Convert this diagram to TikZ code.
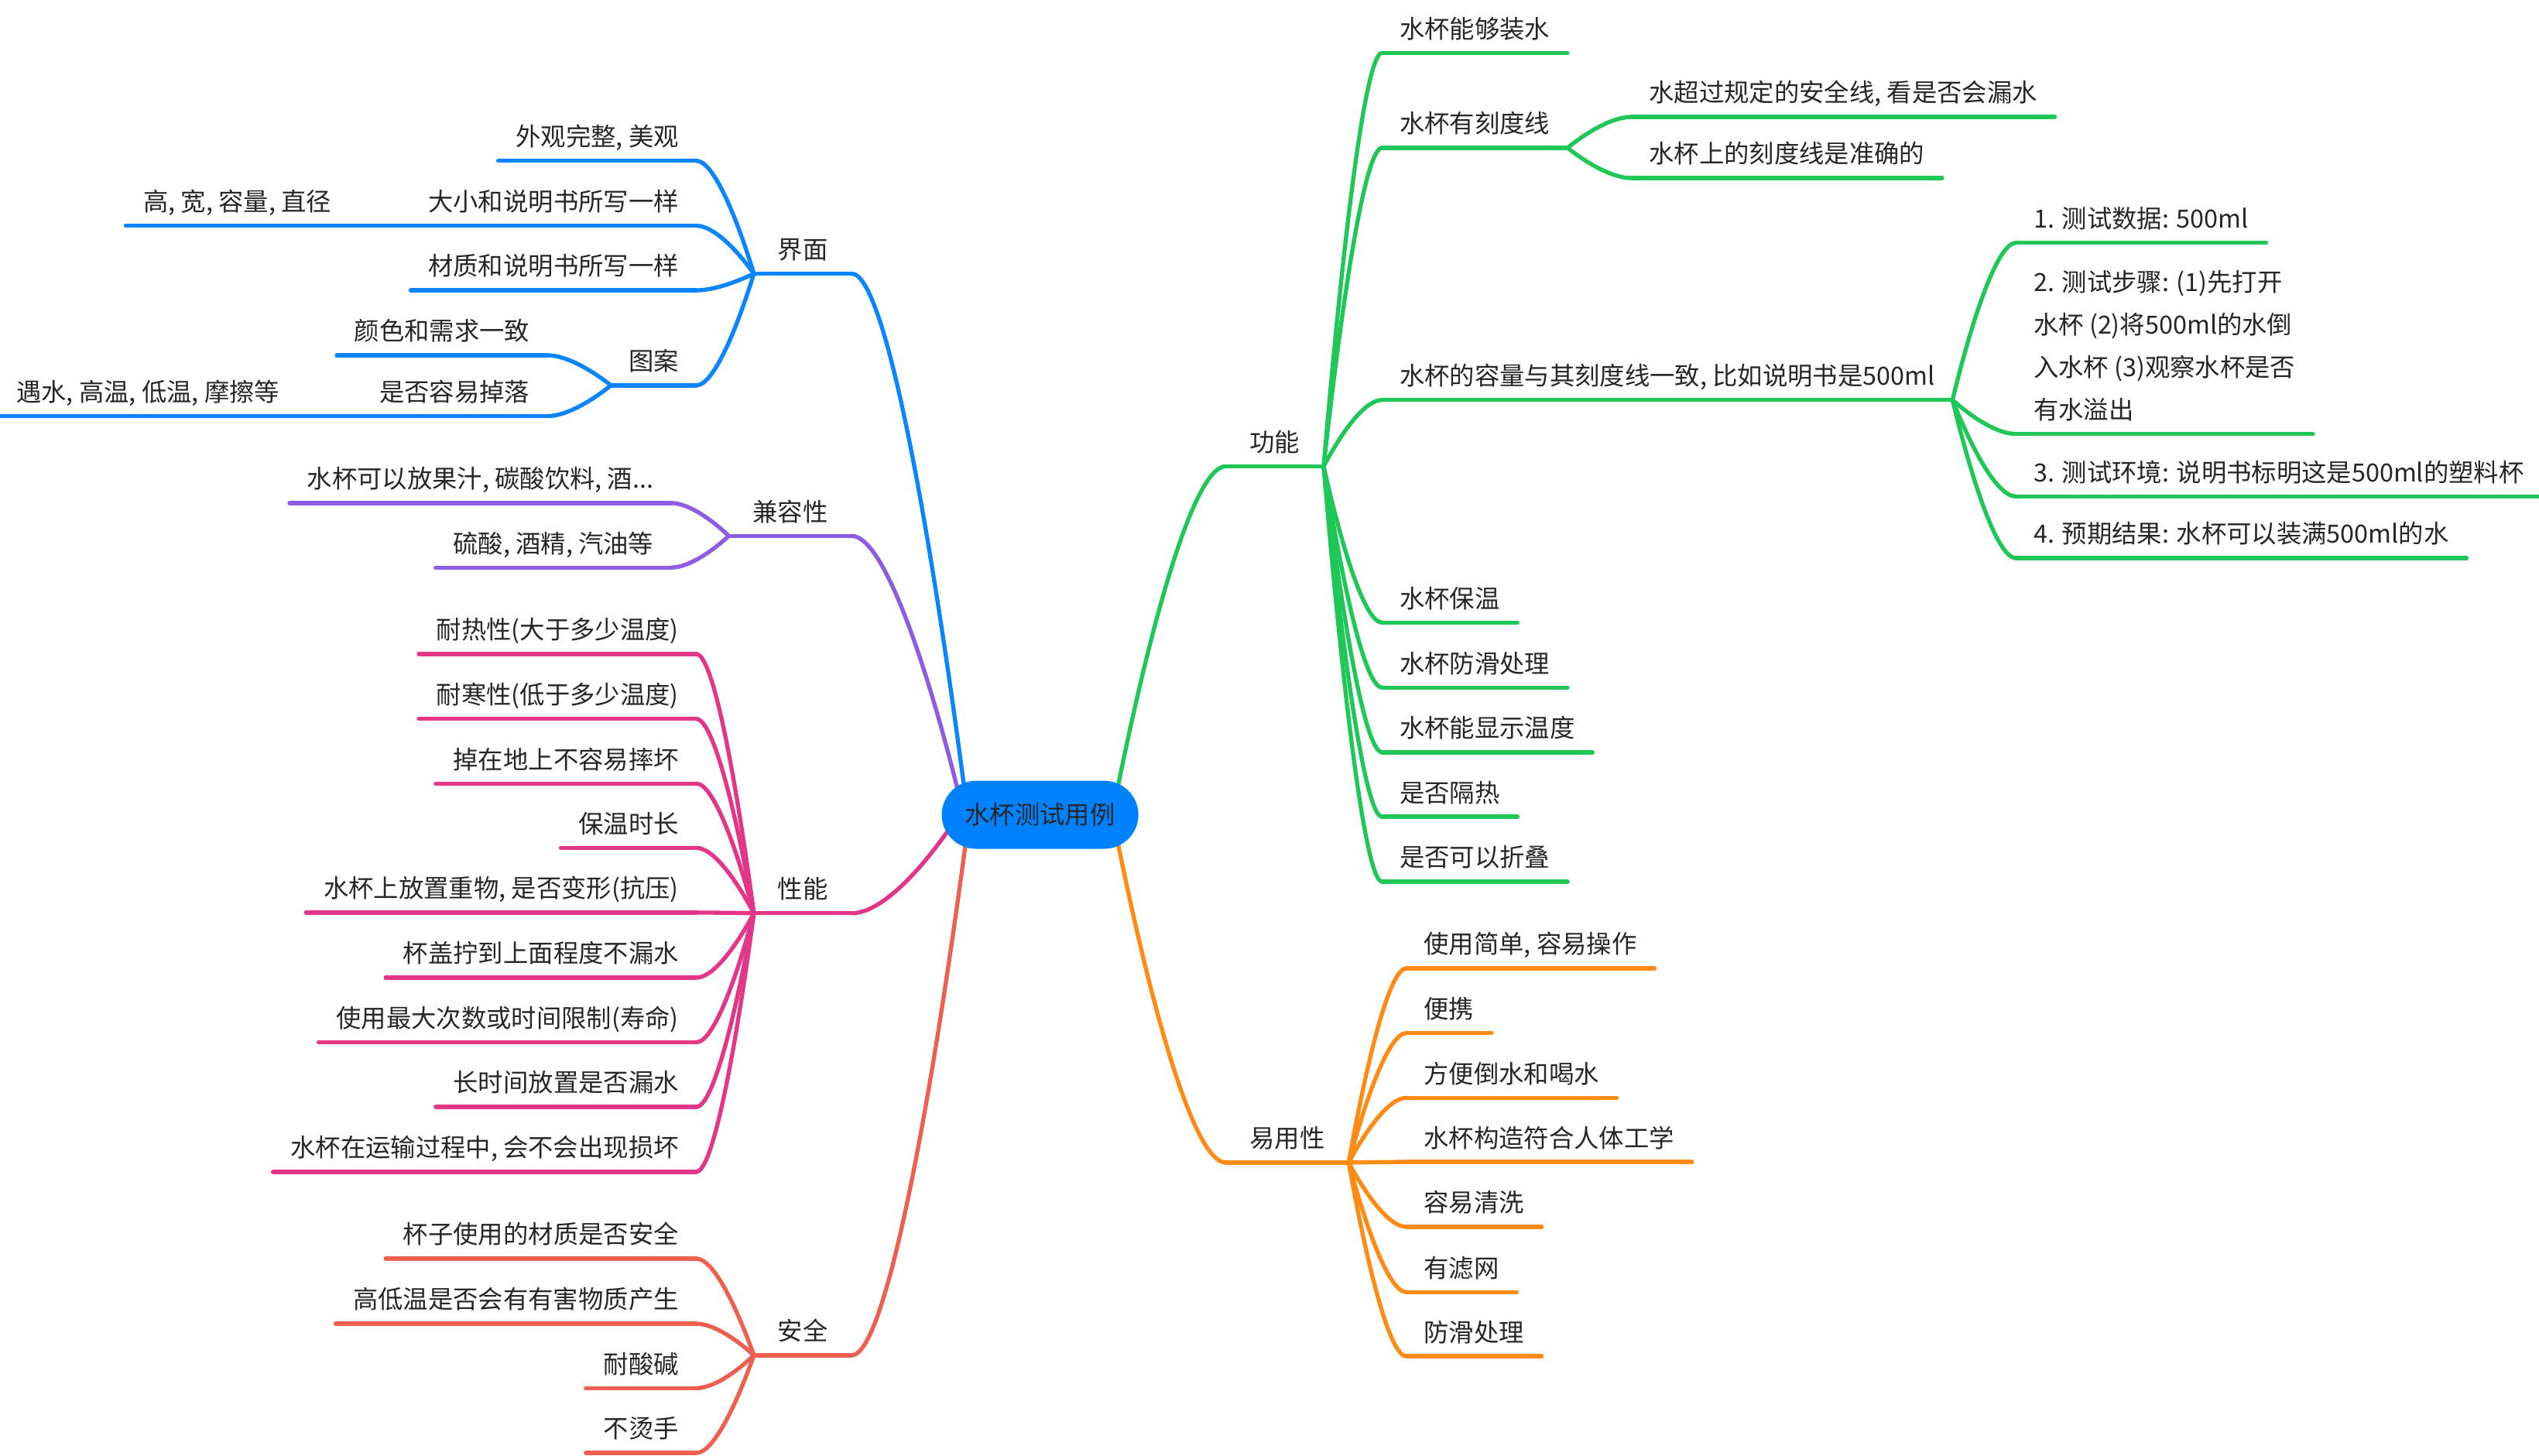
\documentclass[tikz,border=0pt]{standalone}
\usepackage{fontspec}
\newfontfamily\cjk{Noto Sans CJK SC}
\usepackage{tikz}
\usetikzlibrary{calc, backgrounds}

\definecolor{gnline}{RGB}{31,199,86}
\definecolor{ornline}{RGB}{255,138,20}
\definecolor{blline}{RGB}{10,132,255}
\definecolor{puline}{RGB}{141,92,226}
\definecolor{pkline}{RGB}{227,54,137}
\definecolor{rdline}{RGB}{238,95,79}
\definecolor{rootfill}{RGB}{0,130,255}
\definecolor{inkgray}{RGB}{38,38,38}

\tikzset{
  mmtext/.style={font=\cjk\fontsize{8.8pt}{15pt}\selectfont, text=inkgray,
    inner xsep=6pt, inner ysep=5pt, text depth=0pt},
  topic/.style={mmtext, inner xsep=8.2pt},
  leafR/.style={mmtext, anchor=south west},
  leafL/.style={mmtext, anchor=south east},
  branch/.style={line width=1.45pt, line cap=round},
  rootbox/.style={fill=rootfill, rounded corners=12pt, minimum width=2.43cm,
    minimum height=0.84cm, inner sep=0pt, text=inkgray,
    font=\cjk\fontsize{8.8pt}{15pt}\selectfont}
}
% curved link: from #2 to #3, ends flat
\newcommand{\bough}[3]{%
  \draw[branch,#1] let \p1=(#2), \p2=(#3) in
    (\p1) .. controls ({\x1+0.3*(\x2-\x1)},{\y1+0.5*(\y2-\y1)})
    and ({\x2-0.3*(\x2-\x1)},\y2) .. (\p2);}
% line under a node
\newcommand{\topicline}[2]{\draw[branch,#1] (#2.south west) -- (#2.south east);}

\begin{document}
\begin{tikzpicture}[x=0.02cm, y=-0.02cm]
    \useasboundingbox (0,0) rectangle (1568,899);

    % Root
    \node[rootbox] (root) at (642.3,503.2) {水杯测试用例};

    % Topics
    \node[topic, anchor=south west] (gn) at (757,288) {功能};
    \node[topic, anchor=south west] (yn) at (757,718) {易用性};
    \node[topic, anchor=south east] (jm) at (526,169) {界面};
    \node[topic, anchor=south east] (jr) at (526,331) {兼容性};
    \node[topic, anchor=south east] (xn) at (526,564) {性能};
    \node[topic, anchor=south east] (aq) at (526,837) {安全};
    \foreach \t/\c in {gn/gnline, yn/ornline, jm/blline, jr/puline, xn/pkline, aq/rdline}
        \topicline{\c}{\t};

    % Root links
    \begin{scope}[on background layer]
        \bough{gnline}{$(root.center)+(48,-17)$}{gn.south west}
        \bough{ornline}{$(root.center)+(48,17)$}{yn.south west}
        \bough{blline}{$(root.center)+(-47,-18)$}{jm.south east}
        \bough{puline}{$(root.center)+(-51,-16)$}{jr.south east}
        \bough{pkline}{$(root.center)+(-57,10)$}{xn.south east}
        \bough{rdline}{$(root.center)+(-46,18)$}{aq.south east}
    \end{scope}

    % Function branch
    \foreach \i/\yy/\txt in {1/32.7/水杯能够装水, 2/91.3/水杯有刻度线,
        3/247/{水杯的容量与其刻度线一致, 比如说明书是500ml}, 4/384.5/水杯保温,
        5/424.6/水杯防滑处理, 6/464.6/水杯能显示温度, 7/504.4/是否隔热, 8/544.5/是否可以折叠} {
        \node[leafR] (g\i) at (853.5,\yy) {\txt};
        \bough{gnline}{gn.south east}{g\i.south west}
        \topicline{gnline}{g\i}
    }
    \node[leafR] (g2a) at (1007.5,72.2) {水超过规定的安全线, 看是否会漏水};
    \node[leafR] (g2b) at (1007.5,110) {水杯上的刻度线是准确的};
    \node[leafR] (g3a) at (1245,150) {1. 测试数据: 500ml};
    \node[leafR, align=left] (g3b) at (1245,268)
        {2. 测试步骤: (1)先打开\\水杯 (2)将500ml的水倒\\入水杯 (3)观察水杯是否\\有水溢出};
    \node[leafR] (g3c) at (1245,306.6) {3. 测试环境: 说明书标明这是500ml的塑料杯};
    \node[leafR] (g3d) at (1245,344.7) {4. 预期结果: 水杯可以装满500ml的水};
    \foreach \src/\dst in {g2/g2a, g2/g2b, g3/g3a, g3/g3b, g3/g3c, g3/g3d} {
        \bough{gnline}{\src.south east}{\dst.south west}
        \topicline{gnline}{\dst}
    }

    % Usability branch
    \foreach \i/\yy/\txt in {1/598/{使用简单, 容易操作}, 2/638/便携, 3/678/方便倒水和喝水,
        4/717.6/水杯构造符合人体工学, 5/757.7/容易清洗, 6/798/有滤网, 7/837.6/防滑处理} {
        \node[leafR] (y\i) at (868.5,\yy) {\txt};
        \bough{ornline}{yn.south east}{y\i.south west}
        \topicline{ornline}{y\i}
    }

    % Interface branch
    \foreach \i/\yy/\txt in {1/99.3/{外观完整, 美观}, 2/139.4/大小和说明书所写一样,
        3/179.3/材质和说明书所写一样, 4/238/图案} {
        \node[leafL] (j\i) at (430,\yy) {\txt};
        \bough{blline}{jm.south west}{j\i.south east}
        \topicline{blline}{j\i}
    }
    \node[leafL] (j2a) at (215.5,139.4) {高, 宽, 容量, 直径};
    \node[leafL] (j4a) at (338,219.4) {颜色和需求一致};
    \node[leafL] (j4b) at (338,257) {是否容易掉落};
    \node[leafL] (j4c) at (183.5,257) {遇水, 高温, 低温, 摩擦等};
    \foreach \src/\dst in {j2/j2a, j4/j4a, j4/j4b, j4b/j4c} {
        \bough{blline}{\src.south west}{\dst.south east}
        \topicline{blline}{\dst}
    }

    % Compatibility branch
    \foreach \i/\yy/\txt in {1/310.7/{水杯可以放果汁, 碳酸饮料, 酒...}, 2/350.5/{硫酸, 酒精, 汽油等}} {
        \node[leafL] (r\i) at (414.5,\yy) {\txt};
        \bough{puline}{jr.south west}{r\i.south east}
        \topicline{puline}{r\i}
    }

    % Performance branch
    \foreach \i/\yy/\txt in {1/403.9/耐热性(大于多少温度), 2/444/耐寒性(低于多少温度),
        3/483.9/掉在地上不容易摔坏, 4/523.6/保温时长, 5/563.6/{水杯上放置重物, 是否变形(抗压)},
        6/603.8/杯盖拧到上面程度不漏水, 7/643.7/使用最大次数或时间限制(寿命),
        8/683.6/长时间放置是否漏水, 9/723.7/{水杯在运输过程中, 会不会出现损坏}} {
        \node[leafL] (x\i) at (430,\yy) {\txt};
        \bough{pkline}{xn.south west}{x\i.south east}
        \topicline{pkline}{x\i}
    }

    % Safety branch
    \foreach \i/\yy/\txt in {1/777.3/杯子使用的材质是否安全, 2/817.5/高低温是否会有有害物质产生,
        3/857.3/耐酸碱, 4/897.3/不烫手} {
        \node[leafL] (a\i) at (430,\yy) {\txt};
        \bough{rdline}{aq.south west}{a\i.south east}
        \topicline{rdline}{a\i}
    }
\end{tikzpicture}
\end{document}
